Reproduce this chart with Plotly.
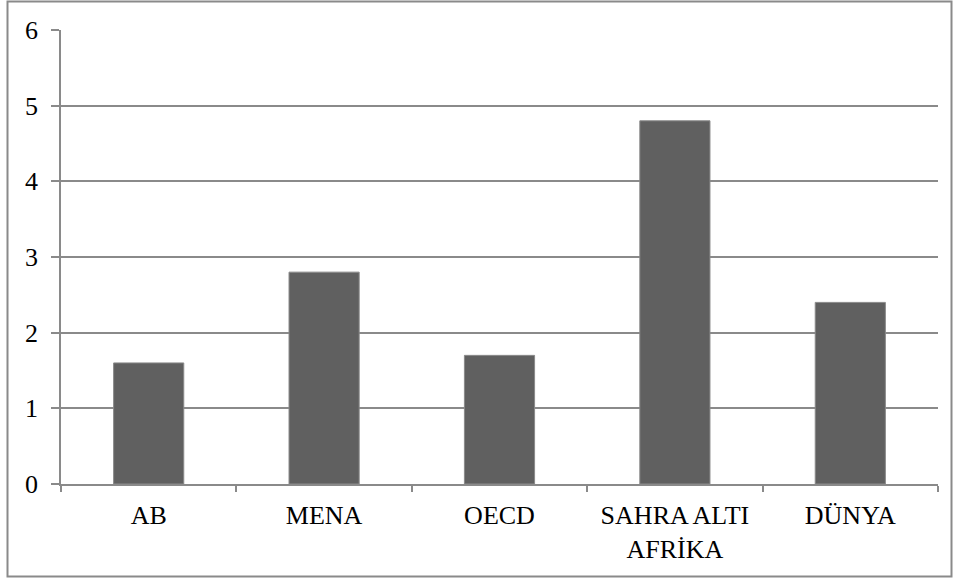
import plotly.graph_objects as go

categories = ["AB", "MENA", "OECD", "SAHRA ALTI<br>AFRİKA", "DÜNYA"]
values = [1.6, 2.8, 1.7, 4.8, 2.4]
y_ticks = [0, 1, 2, 3, 4, 5, 6]

W, H = 958, 578
L, R, T, B = 61, 20, 30, 94
pw, ph = W - L - R, H - T - B

fig = go.Figure(go.Bar(
    x=categories, y=values,
    marker=dict(color="#606060", line=dict(color="#8a8a8a", width=1)),
    width=0.4,
))

def px2x(px):
    return (px - L) / pw

def py2y(py):
    return (H - B - py) / ph

fig.add_shape(type="rect", xref="paper", yref="paper",
              x0=px2x(7.5), x1=px2x(951.5), y0=py2y(576.5), y1=py2y(1.5),
              line=dict(color="#8a8a8a", width=2), layer="below")

fig.update_layout(
    width=W, height=H,
    margin=dict(l=L, r=R, t=T, b=B, pad=0),
    paper_bgcolor="white", plot_bgcolor="white",
    font=dict(family="Liberation Serif", size=26, color="black"),
    showlegend=False,
    bargap=0.6,
)
fig.update_xaxes(
    type="category", showline=True, linecolor="#8a8a8a", linewidth=1.5,
    ticks="outside", tickson="boundaries", ticklen=6, tickcolor="#8a8a8a", tickwidth=1.5,
    showgrid=False, tickfont=dict(size=26), ticklabelstandoff=7,
)
fig.update_yaxes(
    range=[0, 6], tickvals=y_ticks, ticktext=[str(v) for v in y_ticks],
    showline=True, linecolor="#8a8a8a", linewidth=1.5,
    ticks="outside", ticklen=8, tickcolor="#8a8a8a", tickwidth=1.5,
    showgrid=True, gridcolor="#8a8a8a", gridwidth=1.5,
    zeroline=False, tickfont=dict(size=26), ticklabelstandoff=8,
)

fig.write_html(
    "out.html",
    config={"displayModeBar": False},
    post_script="document.body.style.margin='0';document.body.style.overflow='hidden';",
)
